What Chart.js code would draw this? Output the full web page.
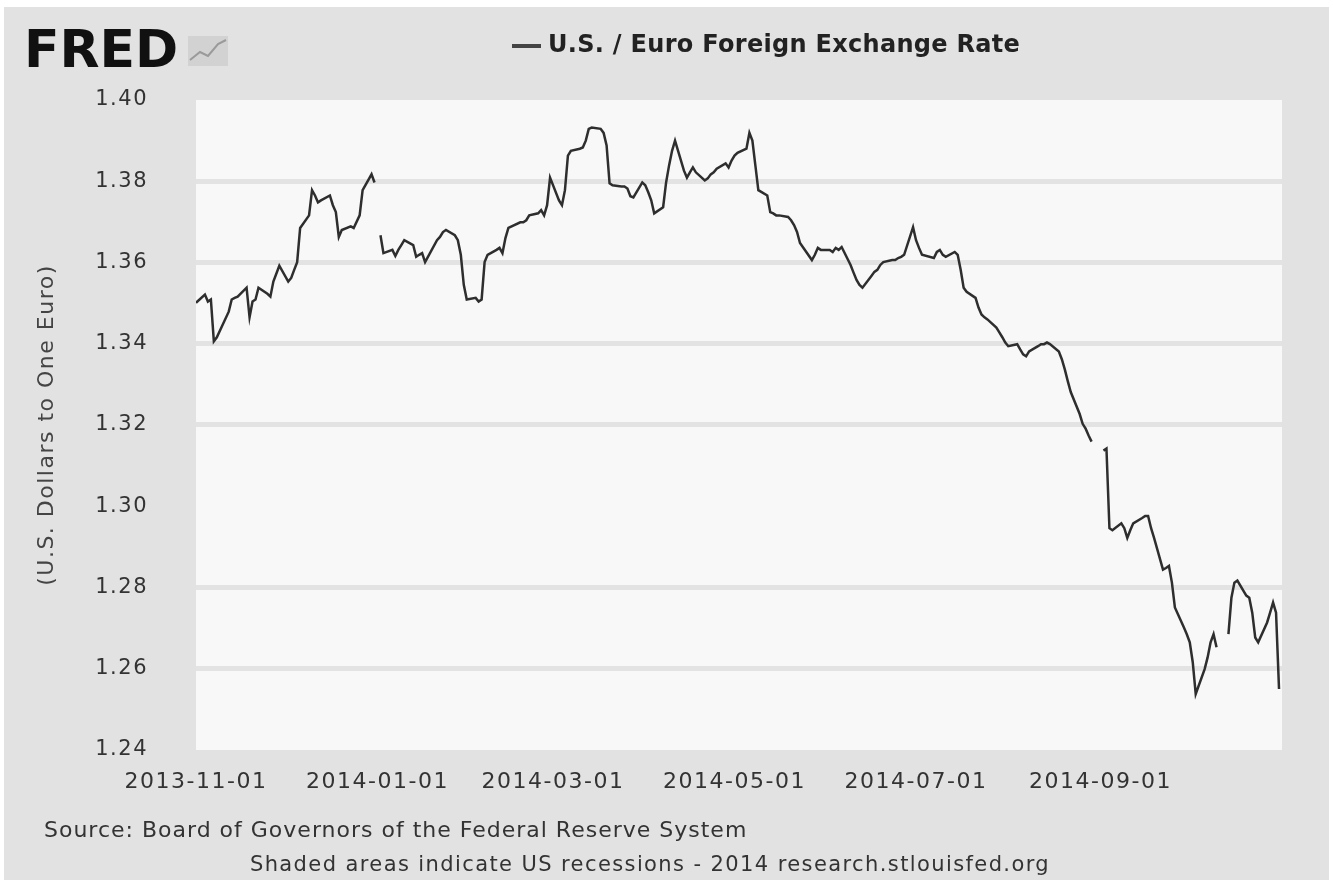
<!DOCTYPE html>
<html>
<head>
<meta charset="utf-8">
<title>U.S. / Euro Foreign Exchange Rate</title>
<script src="https://cdn.jsdelivr.net/npm/chart.js@4.4.1/dist/chart.umd.min.js"></script>
<style>
  html, body { margin: 0; padding: 0; background: #fff; }
  canvas { display: block; }
</style>
</head>
<body>
<canvas id="fredChart" width="1333" height="880"></canvas>
<script>
// daily noon buying rates; null marks the holidays where the FRED line breaks
const dates = [
  '2013-11-01','2013-11-04','2013-11-05','2013-11-06','2013-11-07','2013-11-08','2013-11-12','2013-11-13','2013-11-14','2013-11-15','2013-11-18','2013-11-19','2013-11-20','2013-11-21','2013-11-22','2013-11-25','2013-11-26','2013-11-27','2013-11-29',
  '2013-12-02','2013-12-03','2013-12-04','2013-12-05','2013-12-06','2013-12-09','2013-12-10','2013-12-11','2013-12-12','2013-12-13','2013-12-16','2013-12-17','2013-12-18','2013-12-19','2013-12-20','2013-12-23','2013-12-24','2013-12-26','2013-12-27','2013-12-30','2013-12-31',
  '2014-01-01','2014-01-02','2014-01-03','2014-01-06','2014-01-07','2014-01-08','2014-01-09','2014-01-10','2014-01-13','2014-01-14','2014-01-15','2014-01-16','2014-01-17','2014-01-21','2014-01-22','2014-01-23','2014-01-24','2014-01-27','2014-01-28','2014-01-29','2014-01-30','2014-01-31',
  '2014-02-03','2014-02-04','2014-02-05','2014-02-06','2014-02-07','2014-02-10','2014-02-11','2014-02-12','2014-02-13','2014-02-14','2014-02-18','2014-02-19','2014-02-20','2014-02-21','2014-02-24','2014-02-25','2014-02-26','2014-02-27','2014-02-28',
  '2014-03-03','2014-03-04','2014-03-05','2014-03-06','2014-03-07','2014-03-10','2014-03-11','2014-03-12','2014-03-13','2014-03-14','2014-03-17','2014-03-18','2014-03-19','2014-03-20','2014-03-21','2014-03-24','2014-03-25','2014-03-26','2014-03-27','2014-03-28','2014-03-31',
  '2014-04-01','2014-04-02','2014-04-03','2014-04-04','2014-04-07','2014-04-08','2014-04-09','2014-04-10','2014-04-11','2014-04-14','2014-04-15','2014-04-16','2014-04-17','2014-04-18','2014-04-21','2014-04-22','2014-04-23','2014-04-24','2014-04-25','2014-04-28','2014-04-29','2014-04-30',
  '2014-05-01','2014-05-02','2014-05-05','2014-05-06','2014-05-07','2014-05-08','2014-05-09','2014-05-12','2014-05-13','2014-05-14','2014-05-15','2014-05-16','2014-05-19','2014-05-20','2014-05-21','2014-05-22','2014-05-23','2014-05-27','2014-05-28','2014-05-29','2014-05-30',
  '2014-06-02','2014-06-03','2014-06-04','2014-06-05','2014-06-06','2014-06-09','2014-06-10','2014-06-11','2014-06-12','2014-06-13','2014-06-16','2014-06-17','2014-06-18','2014-06-19','2014-06-20','2014-06-23','2014-06-24','2014-06-25','2014-06-26','2014-06-27','2014-06-30',
  '2014-07-01','2014-07-02','2014-07-03','2014-07-07','2014-07-08','2014-07-09','2014-07-10','2014-07-11','2014-07-14','2014-07-15','2014-07-16','2014-07-17','2014-07-18','2014-07-21','2014-07-22','2014-07-23','2014-07-24','2014-07-25','2014-07-28','2014-07-29','2014-07-30','2014-07-31',
  '2014-08-01','2014-08-04','2014-08-05','2014-08-06','2014-08-07','2014-08-08','2014-08-11','2014-08-12','2014-08-13','2014-08-14','2014-08-15','2014-08-18','2014-08-19','2014-08-20','2014-08-21','2014-08-22','2014-08-25','2014-08-26','2014-08-27','2014-08-28','2014-08-29',
  '2014-09-01','2014-09-02','2014-09-03','2014-09-04','2014-09-05','2014-09-08','2014-09-09','2014-09-10','2014-09-11','2014-09-12','2014-09-15','2014-09-16','2014-09-17','2014-09-18','2014-09-19','2014-09-22','2014-09-23','2014-09-24','2014-09-25','2014-09-26','2014-09-29','2014-09-30',
  '2014-10-01','2014-10-02','2014-10-03','2014-10-06','2014-10-07','2014-10-08','2014-10-09','2014-10-10','2014-10-13','2014-10-14','2014-10-15','2014-10-16','2014-10-17','2014-10-20','2014-10-21','2014-10-22','2014-10-23','2014-10-24','2014-10-27','2014-10-28','2014-10-29','2014-10-30','2014-10-31'
];

const rates = [
  1.3501,1.3521,1.3504,1.3509,1.3406,1.3416,1.3479,1.3509,1.3513,1.3516,1.3538,1.3465,1.3504,1.3509,1.3538,1.3523,1.3516,1.3553,1.3592,
  1.3553,1.3562,1.3582,1.3601,1.3685,1.3716,1.3778,1.3765,1.3748,1.3753,1.3765,1.3741,1.3724,1.3663,1.3680,1.3689,1.3685,1.3716,1.3778,1.3817,1.3797,
  null,1.3667,1.3623,1.3631,1.3616,1.3631,1.3643,1.3655,1.3643,1.3614,1.3619,1.3623,1.3601,1.3655,1.3663,1.3675,1.3680,1.3667,1.3655,1.3619,1.3545,1.3509,
  1.3513,1.3504,1.3509,1.3601,1.3619,1.3631,1.3636,1.3623,1.3660,1.3685,1.3699,1.3699,1.3704,1.3716,1.3721,1.3729,1.3716,1.3741,1.3809,
  1.3753,1.3741,1.3778,1.3863,1.3875,1.3880,1.3883,1.3900,1.3929,1.3932,1.3929,1.3919,1.3888,1.3795,1.3790,1.3787,1.3787,1.3782,1.3763,1.3760,1.3797,
  1.3790,1.3773,1.3753,1.3721,1.3736,1.3797,1.3839,1.3875,1.3900,1.3826,1.3809,1.3822,1.3834,1.3822,1.3802,1.3807,1.3817,1.3822,1.3831,1.3844,1.3834,1.3851,
  1.3863,1.3870,1.3880,1.3919,1.3900,1.3839,1.3778,1.3765,1.3724,1.3721,1.3716,1.3716,1.3712,1.3704,1.3692,1.3675,1.3648,1.3606,1.3619,1.3636,1.3631,
  1.3631,1.3626,1.3636,1.3631,1.3638,1.3594,1.3575,1.3557,1.3545,1.3538,1.3567,1.3577,1.3582,1.3594,1.3601,1.3606,1.3606,1.3611,1.3614,1.3619,1.3687,
  1.3655,1.3636,1.3619,1.3611,1.3626,1.3631,1.3619,1.3614,1.3626,1.3619,1.3582,1.3538,1.3528,1.3513,1.3489,1.3472,1.3465,1.3460,1.3440,1.3428,1.3416,1.3403,
  1.3394,1.3399,1.3386,1.3374,1.3369,1.3381,1.3394,1.3399,1.3399,1.3403,1.3399,1.3381,1.3362,1.3337,1.3308,1.3281,1.3227,1.3203,1.3191,1.3174,1.3159,
  null,1.3137,1.3142,1.2946,1.2941,1.2958,1.2946,1.2922,1.2941,1.2958,1.2971,1.2976,1.2976,1.2946,1.2922,1.2844,1.2848,1.2853,1.2812,1.2751,1.2702,1.2685,
  1.2665,1.2616,1.2538,1.2599,1.2628,1.2665,1.2685,1.2653,null,1.2685,1.2775,1.2812,1.2817,1.2780,1.2775,1.2738,1.2677,1.2665,1.2714,1.2738,1.2763,1.2738,1.2550
];

const xTickLabels = ['2013-11-01', '2014-01-01', '2014-03-01', '2014-05-01', '2014-07-01', '2014-09-01'];
const yTicks = [1.24, 1.26, 1.28, 1.30, 1.32, 1.34, 1.36, 1.38, 1.40];
const xStart = '2013-11-01';
const xEnd = '2014-11-01';

const seriesName = 'U.S. / Euro Foreign Exchange Rate';
const yTitle = '(U.S. Dollars to One Euro)';
const sourceNote = 'Source: Board of Governors of the Federal Reserve System';
const footNote = 'Shaded areas indicate US recessions - 2014 research.stlouisfed.org';

const FONT = '"DejaVu Sans", Verdana, sans-serif';

function dayOf(s) {
  const p = s.split('-');
  return (Date.UTC(+p[0], +p[1] - 1, +p[2]) - Date.UTC(2013, 10, 1)) / 86400000;
}

const points = dates.map((d, i) => ({ x: dayOf(d), y: rates[i] }));

// grey page, pale plot area, logo and notes drawn around the chart
const fredFrame = {
  id: 'fredFrame',
  beforeDraw(chart) {
    const { ctx, chartArea: a } = chart;
    ctx.save();
    ctx.fillStyle = '#ffffff';
    ctx.fillRect(0, 0, chart.width, chart.height);
    ctx.fillStyle = '#e2e2e2';
    ctx.fillRect(4, 7, 1325, 873);
    ctx.fillStyle = '#f8f8f8';
    ctx.fillRect(a.left, a.top, a.right - a.left, a.bottom - a.top);
    ctx.restore();
    // FRED's axis text is set wide
    ctx.letterSpacing = '1.5px';
  },
  afterDraw(chart) {
    const ctx = chart.ctx;
    ctx.save();
    ctx.letterSpacing = '0px';
    // FRED wordmark
    ctx.fillStyle = '#111';
    ctx.font = 'bold 52px ' + FONT;
    ctx.textBaseline = 'alphabetic';
    ctx.textAlign = 'left';
    ctx.fillText('FRED', 24, 67);
    // small graph icon next to it
    ctx.fillStyle = '#d2d2d2';
    ctx.fillRect(188, 36, 40, 30);
    ctx.strokeStyle = '#9a9a9a';
    ctx.lineWidth = 2;
    ctx.beginPath();
    ctx.moveTo(190, 60); ctx.lineTo(200, 52); ctx.lineTo(208, 56); ctx.lineTo(218, 44); ctx.lineTo(226, 40);
    ctx.stroke();

    // legend
    ctx.strokeStyle = '#444';
    ctx.lineWidth = 4;
    ctx.beginPath();
    ctx.moveTo(512, 46); ctx.lineTo(541, 46);
    ctx.stroke();
    ctx.fillStyle = '#222';
    ctx.font = 'bold 24px ' + FONT;
    ctx.letterSpacing = '0.3px';
    ctx.textBaseline = 'middle';
    ctx.fillText(seriesName, 548, 46);

    // notes
    ctx.fillStyle = '#333';
    ctx.font = '22px ' + FONT;
    ctx.letterSpacing = '1px';
    ctx.fillText(sourceNote, 44, 831);
    ctx.textAlign = 'center';
    ctx.font = '21px ' + FONT;
    ctx.letterSpacing = '1.4px';
    ctx.fillText(footNote, 650, 866);
    ctx.restore();
    ctx.letterSpacing = '0px';
  }
};

new Chart(document.getElementById('fredChart').getContext('2d'), {
  type: 'line',
  data: {
    datasets: [{
      label: seriesName,
      data: points,
      borderColor: '#2e2e2e',
      borderWidth: 2.5,
      pointRadius: 0,
      tension: 0,
      spanGaps: false
    }]
  },
  options: {
    responsive: false,
    animation: false,
    layout: { padding: { top: 100, right: 51, bottom: 0, left: 0 } },
    scales: {
      x: {
        type: 'linear',
        min: dayOf(xStart),
        max: dayOf(xEnd),
        afterBuildTicks: (axis) => { axis.ticks = xTickLabels.map(l => ({ value: dayOf(l) })); },
        afterFit: (scale) => { scale.height = 130; },
        grid: { display: false, drawTicks: false },
        border: { display: false },
        ticks: {
          padding: 19,
          maxRotation: 0,
          autoSkip: false,
          color: '#333',
          font: { family: FONT, size: 22 },
          callback: (v) => {
            const hit = xTickLabels.find(l => dayOf(l) === v);
            return hit || '';
          }
        }
      },
      y: {
        min: yTicks[0],
        max: yTicks[yTicks.length - 1],
        afterBuildTicks: (axis) => { axis.ticks = yTicks.map(v => ({ value: v })); },
        afterFit: (scale) => { scale.width = 196; },
        grid: {
          drawTicks: false,
          lineWidth: 5,
          color: (c) => {
            const v = c.tick ? c.tick.value : null;
            if (v === null || Math.abs(v - 1.30) < 1e-6 || Math.abs(v - 1.40) < 1e-6 || Math.abs(v - 1.24) < 1e-6) {
              return 'rgba(0,0,0,0)';
            }
            return '#e3e3e3';
          }
        },
        border: { display: false },
        title: {
          display: true,
          text: yTitle,
          color: '#444',
          font: { family: FONT, size: 22 },
          padding: { top: 34, bottom: 0 }
        },
        ticks: {
          padding: 48,
          color: '#333',
          font: { family: FONT, size: 21 },
          callback: (v) => v.toFixed(2)
        }
      }
    },
    plugins: {
      legend: { display: false },
      tooltip: { enabled: false }
    }
  },
  plugins: [fredFrame]
});
</script>
</body>
</html>
